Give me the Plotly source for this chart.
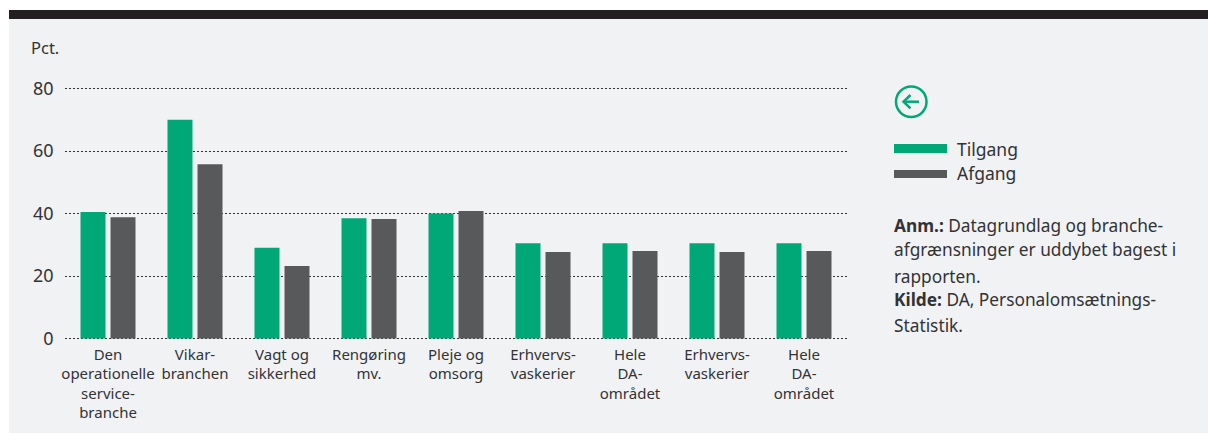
import plotly.graph_objects as go

W, H = 1208, 433
FONT = "Noto Sans"
TEXT = "#333335"
GREEN = "#00a878"
GREY = "#58595b"
PANEL = "#f1f2f4"

tick_labels = ["Den<br>operationelle<br>service-<br>branche", "Vikar-<br>branchen", "Vagt og<br>sikkerhed",
               "Rengøring<br>mv.", "Pleje og<br>omsorg", "Erhvervs-<br>vaskerier", "Hele<br>DA-<br>området",
               "Erhvervs-<br>vaskerier", "Hele<br>DA-<br>området"]
tilgang = [40.5, 70, 29, 38.5, 40, 30.5, 30.5, 30.5, 30.5]
afgang = [38.8, 55.8, 23.2, 38.2, 40.8, 27.7, 28, 27.7, 28]
positions = list(range(len(tick_labels)))
y_ticks = [0, 20, 40, 60, 80]
note_lines = ["<b>Anm.:</b> Datagrundlag og branche-", "afgrænsninger er uddybet bagest i", "rapporten.",
              "<b>Kilde:</b> DA, Personalomsætnings-", "Statistik."]
note_ys = [225, 250, 276, 299.5, 325.5]

def px(x): return x / W
def py(y): return 1 - y / H

fig = go.Figure()
fig.add_bar(name="Tilgang", x=positions, y=tilgang, marker_color=GREEN, marker_line_width=0)
fig.add_bar(name="Afgang", x=positions, y=afgang, marker_color=GREY, marker_line_width=0)

def rect(x0, y0, x1, y1, color):
    return dict(type="rect", xref="paper", yref="paper", x0=px(x0), x1=px(x1), y0=py(y0), y1=py(y1),
                fillcolor=color, line_width=0, layer="below")

def path(points):
    return "M " + " L ".join(f"{px(x)},{py(y)}" for x, y in points)

icon_line = dict(color=GREEN, width=2.5)
shapes = [
    rect(9, 10, W, H, PANEL),
    rect(9, 10, W, 19, "#231f20"),
    rect(894, 144, 947, 153, GREEN),
    rect(894, 170, 947, 178, GREY),
    dict(type="circle", xref="paper", yref="paper", x0=px(896), x1=px(926.5), y0=py(86.5), y1=py(117), line=icon_line),
    dict(type="path", xref="paper", yref="paper", path=path([(903.5, 101.7), (919, 101.7)]), line=icon_line),
    dict(type="path", xref="paper", yref="paper", path=path([(910.5, 95), (903.5, 101.7), (910.5, 108.3)]), line=icon_line),
]

def label(x, y, text, size=16, xanchor="left"):
    return dict(xref="paper", yref="paper", x=px(x), y=py(y), text=text, showarrow=False, xanchor=xanchor,
                yanchor="middle", borderpad=0, borderwidth=0, align="left", font=dict(family=FONT, size=size, color=TEXT))

annotations = [label(31, 47, "Pct.", 16.5), label(957, 148.5, "Tilgang", 17.5), label(957, 173.5, "Afgang", 17.5)]
annotations += [label(894, y, t, 17.3) for y, t in zip(note_ys, note_lines)]

fig.update_layout(
    width=W, height=H, margin=dict(l=0, r=0, t=0, b=0), paper_bgcolor="white", plot_bgcolor="rgba(0,0,0,0)",
    barmode="group", bargap=0.31, bargroupgap=0.167, showlegend=False, shapes=shapes, annotations=annotations,
    font=dict(family=FONT, color=TEXT),
    xaxis=dict(domain=[px(64.5), px(847.5)], range=[-0.5, 8.5], tickvals=positions, ticktext=tick_labels, showgrid=False,
               zeroline=False, showline=False, ticks="", tickangle=0, tickfont=dict(size=15, color=TEXT),
               ticklabelstandoff=4, automargin=False),
    yaxis=dict(domain=[py(339.75), py(87.25)], range=[-0.4, 80.4], tickvals=y_ticks, showgrid=True, griddash="2px,2px",
               gridcolor="#333333", gridwidth=1, zeroline=False, showline=False, ticks="",
               tickfont=dict(size=18, color=TEXT), ticklabelstandoff=10, automargin=False),
)
fig.write_html("out.html", config=dict(displayModeBar=False),
               post_script="document.body.style.margin='0';document.body.style.overflow='hidden';")
